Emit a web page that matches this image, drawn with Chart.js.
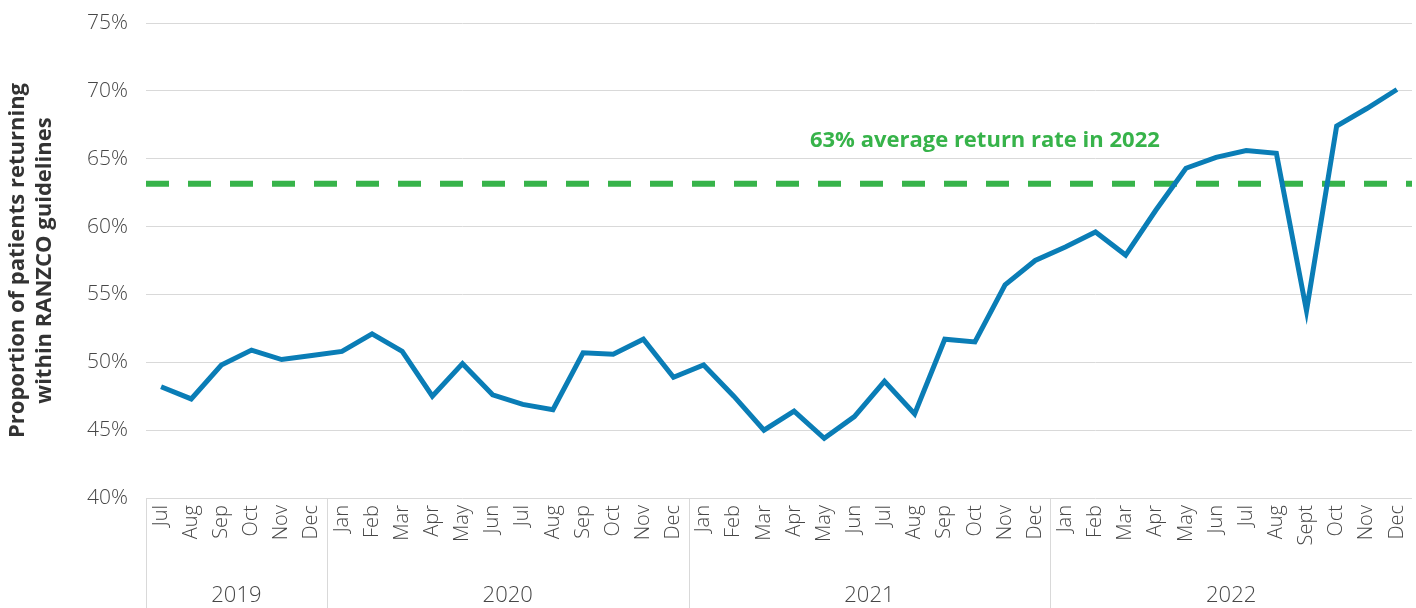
<!DOCTYPE html>
<html lang="en">
<head>
<meta charset="UTF-8">
<title>Return rate within RANZCO guidelines</title>
<script src="https://cdn.jsdelivr.net/npm/chart.js@4.4.0/dist/chart.umd.min.js"></script>
<style>
  html, body { margin: 0; padding: 0; background: #fff; }
  #wrap { width: 1416px; height: 608px; }
</style>
</head>
<body>
<div id="wrap"><canvas id="myChart"></canvas></div>
<script>
// ---- data ----
var months = [
  'Jul','Aug','Sep','Oct','Nov','Dec',
  'Jan','Feb','Mar','Apr','May','Jun','Jul','Aug','Sep','Oct','Nov','Dec',
  'Jan','Feb','Mar','Apr','May','Jun','Jul','Aug','Sep','Oct','Nov','Dec',
  'Jan','Feb','Mar','Apr','May','Jun','Jul','Aug','Sept','Oct','Nov','Dec'
];
var years = ['2019', '2020', '2021', '2022'];
var monthsPerYear = [6, 12, 12, 12];
var returnRate = [
  48.2, 47.3, 49.8, 50.9, 50.2, 50.5,
  50.8, 52.1, 50.8, 47.5, 49.9, 47.6, 46.9, 46.5, 50.7, 50.6, 51.7, 48.9,
  49.8, 47.5, 45.0, 46.4, 44.4, 46.0, 48.6, 46.2, 51.7, 51.5, 55.7, 57.5,
  58.5, 59.6, 57.9, 61.2, 64.3, 65.1, 65.6, 65.4, 53.8, 67.4, 68.7, 70.1
];
var avg2022 = 63.15;
var avgLabel = '63% average return rate in 2022';
var avgLabelAt = { index: 33, value: 66.3 };
var yMin = 40, yMax = 75, yStep = 5;

var FONT = '"Open Sans", "Noto Sans", sans-serif';
var GREY = '#474747';
var GRID = '#d9d9d9';
var BLUE = '#0a7db6';
var GREEN = '#37b34a';

// draws the average line, its label, and the year groups under the months
var extras = {
  id: 'extras',
  beforeDatasetsDraw: function(chart) {
    var ctx = chart.ctx, a = chart.chartArea, y = chart.scales.y;
    var py = y.getPixelForValue(avg2022);
    ctx.save();
    ctx.strokeStyle = GREEN;
    ctx.lineWidth = 6;
    ctx.setLineDash([23, 19]);
    ctx.beginPath();
    ctx.moveTo(a.left, py);
    ctx.lineTo(a.right, py);
    ctx.stroke();
    ctx.restore();
  },
  afterDraw: function(chart) {
    var ctx = chart.ctx, a = chart.chartArea, x = chart.scales.x, y = chart.scales.y;
    ctx.save();
    // label
    ctx.fillStyle = GREEN;
    ctx.font = 'bold 22px ' + FONT;
    ctx.textAlign = 'right';
    ctx.textBaseline = 'middle';
    ctx.fillText(avgLabel, x.getPixelForValue(avgLabelAt.index) + 4, y.getPixelForValue(avgLabelAt.value));

    // year groups
    ctx.strokeStyle = GRID;
    ctx.lineWidth = 1;
    ctx.fillStyle = GREY;
    ctx.font = '300 22px ' + FONT;
    ctx.textAlign = 'center';
    var start = 0, left = a.left;
    for (var i = 0; i < years.length; i++) {
      var end = start + monthsPerYear[i];
      var right = end < months.length
        ? (x.getPixelForValue(end - 1) + x.getPixelForValue(end)) / 2
        : a.right;
      ctx.beginPath();
      ctx.moveTo(Math.round(left) + 0.5, a.bottom);
      ctx.lineTo(Math.round(left) + 0.5, chart.height);
      ctx.stroke();
      ctx.fillText(years[i], (left + right) / 2, chart.height - 12);
      left = right;
      start = end;
    }
    ctx.restore();
  }
};

var ctx = document.getElementById('myChart').getContext('2d');
var chart = new Chart(ctx, {
  type: 'line',
  data: {
    labels: months,
    datasets: [{
      label: 'Return rate',
      data: returnRate,
      borderColor: BLUE,
      borderWidth: 5,
      pointRadius: 0,
      tension: 0,
      fill: false
    }]
  },
  options: {
    responsive: true,
    maintainAspectRatio: false,
    animation: false,
    layout: { padding: { top: 23, right: 4, left: 0, bottom: 0 } },
    plugins: {
      legend: { display: false },
      tooltip: { enabled: false }
    },
    scales: {
      x: {
        offset: true,
        grid: { display: false, drawTicks: false, offset: true },
        border: { display: false },
        ticks: {
          autoSkip: false,
          maxRotation: 90,
          minRotation: 90,
          padding: 7,
          color: GREY,
          font: { family: FONT, size: 20, weight: 300 }
        },
        afterFit: function(s) {
          s.height = 110;
          s.paddingLeft = 0;
          s.paddingRight = 0;
        }
      },
      y: {
        min: yMin,
        max: yMax,
        grid: { color: GRID, lineWidth: 1, drawTicks: false },
        border: { display: false },
        ticks: {
          stepSize: yStep,
          padding: 18,
          color: GREY,
          font: { family: FONT, size: 21, weight: 300 },
          callback: function(v) { return v + '%'; }
        },
        title: {
          display: true,
          text: ['Proportion of patients returning', 'within RANZCO guidelines'],
          color: '#333333',
          font: { family: FONT, size: 22, weight: 'bold', lineHeight: 1.22 },
          padding: { top: 4, bottom: 0 }
        },
        afterFit: function(s) {
          s.width = 146;
          s.paddingTop = 0;
          s.paddingBottom = 0;
        }
      }
    }
  },
  plugins: [extras]
});
</script>
</body>
</html>
